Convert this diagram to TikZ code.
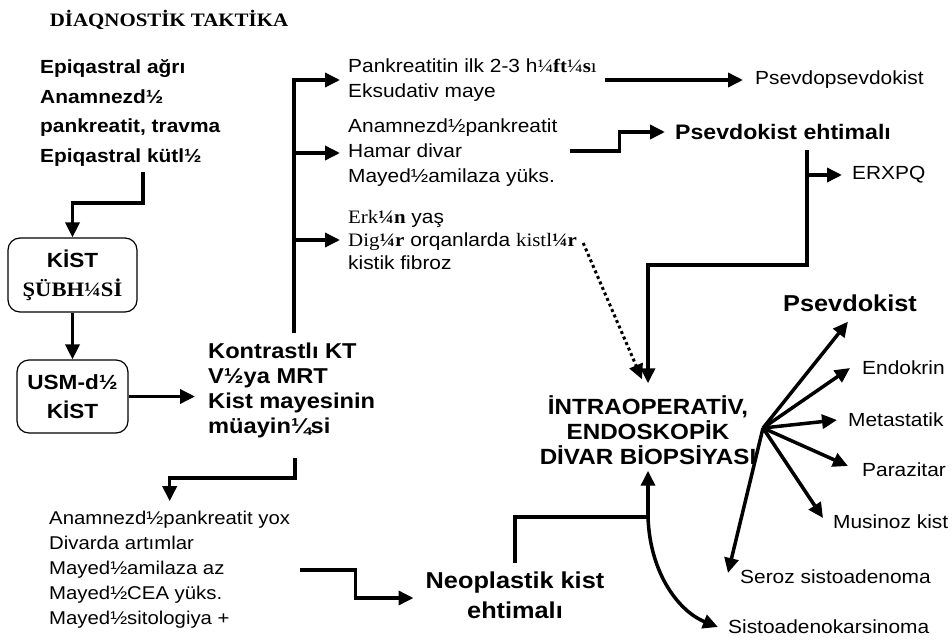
\documentclass[tikz,border=0pt]{standalone}
\usepackage{fontspec}
\setmainfont[FakeStretch=1.1]{Liberation Sans}
\newfontfamily\tms[FakeStretch=1.1]{Liberation Serif}
\usetikzlibrary{arrows.meta}
\tikzset{
  ln/.style={line width=3.5pt},
  ar/.style={line width=3.5pt,-{Triangle[length=15pt,width=14pt]}},
  dotar/.style={line width=3pt,dash pattern=on 3pt off 3pt,-{Triangle[length=15pt,width=14pt]}},
  txt/.style={inner sep=0pt,anchor=west,align=left},
  reg/.style={txt,font=\fontsize{19}{25}\selectfont},
  bsm/.style={txt,font=\bfseries\fontsize{19}{29.5}\selectfont},
  bbg/.style={inner sep=0pt,font=\bfseries\fontsize{22}{25}\selectfont},
  rbox/.style={draw,line width=1.2pt,rounded corners=12pt,inner sep=0pt,align=center,
    font=\bfseries\fontsize{20.5}{29}\selectfont}
}
\begin{document}
\begin{tikzpicture}[x=1pt,y=-1pt]
\useasboundingbox (0,0) rectangle (952,642);

% title
\node[inner sep=0pt,font=\tms\bfseries\fontsize{19}{22}\selectfont] (title) at (169,20) {DİAQNOSTİK TAKTİKA};

% left column
\node[bsm] (sym) at (40,113) {Epiqastral ağrı\\Anamnezd½\\pankreatit, travma\\Epiqastral kütl½};
\node[rbox,minimum width=129pt,minimum height=74pt] (box1) at (72.5,275) {KİST\\{\tms ŞÜBH¼Sİ}};
\node[rbox,minimum width=111pt,minimum height=73pt] (box2) at (72.5,396.5) {USM-d½\\KİST};
\node[txt,font=\bfseries\fontsize{21.5}{25}\selectfont] (kt) at (208,390) {Kontrastlı KT\\V½ya MRT\\Kist mayesinin\\müayin¼si};

% middle groups
\node[reg] (g1) at (348,80) {Pankreatitin ilk 2-3 h{\tms ¼\textbf{ft}¼\textbf{s}ı}\\Eksudativ maye};
\node[reg] (g2) at (348,153) {Anamnezd½pankreatit\\Hamar divar\\Mayed½amilaza yüks.};
\node[txt,font=\fontsize{19}{23}\selectfont] (g3) at (348,240) {{\tms Erk\textbf{¼n}} yaş\\{\tms Dig\textbf{¼r}} orqanlarda {\tms kistl\textbf{¼r}}\\kistik fibroz};
\node[txt,font=\fontsize{18.5}{25}\selectfont] (bb) at (49,570) {Anamnezd½pankreatit yox\\Divarda artımlar\\Mayed½amilaza az\\Mayed½CEA yüks.\\Mayed½sitologiya +};

% right side
\node[reg] (pp) at (755,80) {Psevdopsevdokist};
\node[txt,font=\bfseries\fontsize{21}{25}\selectfont] (pe) at (675,132) {Psevdokist ehtimalı};
\node[reg] (erx) at (852,175) {ERXPQ};
\node[bbg,align=center] (intra) at (648,430) {İNTRAOPERATİV,\\ENDOSKOPİK\\DİVAR BİOPSİYASI};
\node[inner sep=0pt,font=\bfseries\fontsize{23}{25}\selectfont] (ps2) at (850,303) {Psevdokist};
\node[reg] (endo) at (862,368) {Endokrin};
\node[reg] (meta) at (848,420) {Metastatik};
\node[reg] (para) at (862,470) {Parazitar};
\node[reg] (musi) at (833,522) {Musinoz kist};
\node[reg] (sero) at (740,577) {Seroz sistoadenoma};
\node[reg] (sis) at (728,627) {Sistoadenokarsinoma};
\node[inner sep=0pt,align=center,font=\bfseries\fontsize{23}{30}\selectfont] (neo) at (515,595) {Neoplastik kist\\ehtimalı};

% junction coordinates
\coordinate (s1) at (143,172);
\coordinate (tb) at (294,333);
\coordinate (kb) at (295,458);
\coordinate (pj) at (807,150);
\coordinate (nj) at (648,517);
\coordinate (fan) at (763,428);

% connectors
\draw[ar] (s1) -- ++(0,31) -| (box1.north);
\draw[ar] (box1) -- (box2);
\draw[ar] (box2.east) -- ([xshift=-13pt]box2.east -| kt.west);
\draw[ar] (tb) |- ([xshift=-8pt]g1.west);
\draw[ar] (tb |- g2.west) -- ([xshift=-8pt]g2.west);
\draw[ar] (tb |- g3.west) -- ([xshift=-8pt]g3.west);
\draw[ar] ([xshift=8pt]g1.east) -- ([xshift=-12pt]pp.west);
\draw[ar] ([xshift=12pt,yshift=2pt]g2.east) -- ++(50,0) |- ([xshift=-10pt]pe.west);
\draw[ln] (pj) -- (pj |- erx.west);
\draw[ar] (pj |- erx.west) -- ([xshift=-10pt]erx.west);
\draw[ar] (pj) -- ++(0,115) -| ([yshift=12pt]intra.north);
\draw[dotar] ([xshift=6pt,yshift=-3pt]g3.east) -- ([xshift=-6pt,yshift=16pt]intra.north);
\draw[ar] (kb) -- ++(0,20) -| ([yshift=10pt]bb.north);
\draw[ar] ([xshift=10pt]bb.east) -- ++(55,0) |- ([xshift=-12pt,yshift=-3pt]neo.west);
\draw[ln] ([yshift=8pt]neo.north) |- (nj);
\draw[ar] (nj) -- ([yshift=-6pt]intra.south -| nj);
\draw[ar] (nj) .. controls (650,575) and (680,612) .. ([xshift=-10pt]sis.west);

% fan
\draw[ar] (fan) -- ([shift={(-2pt,-10pt)}]ps2.south);
\draw[ar] (fan) -- ([xshift=-12pt]endo.west);
\draw[ar] (fan) -- ([xshift=-11pt]meta.west);
\draw[ar] (fan) -- ([xshift=-14pt,yshift=4pt]para.west);
\draw[ar] (fan) -- ([xshift=-10pt,yshift=4pt]musi.west);
\draw[ar] (fan) -- ([xshift=-12pt,yshift=4pt]sero.west);
\end{tikzpicture}
\end{document}
